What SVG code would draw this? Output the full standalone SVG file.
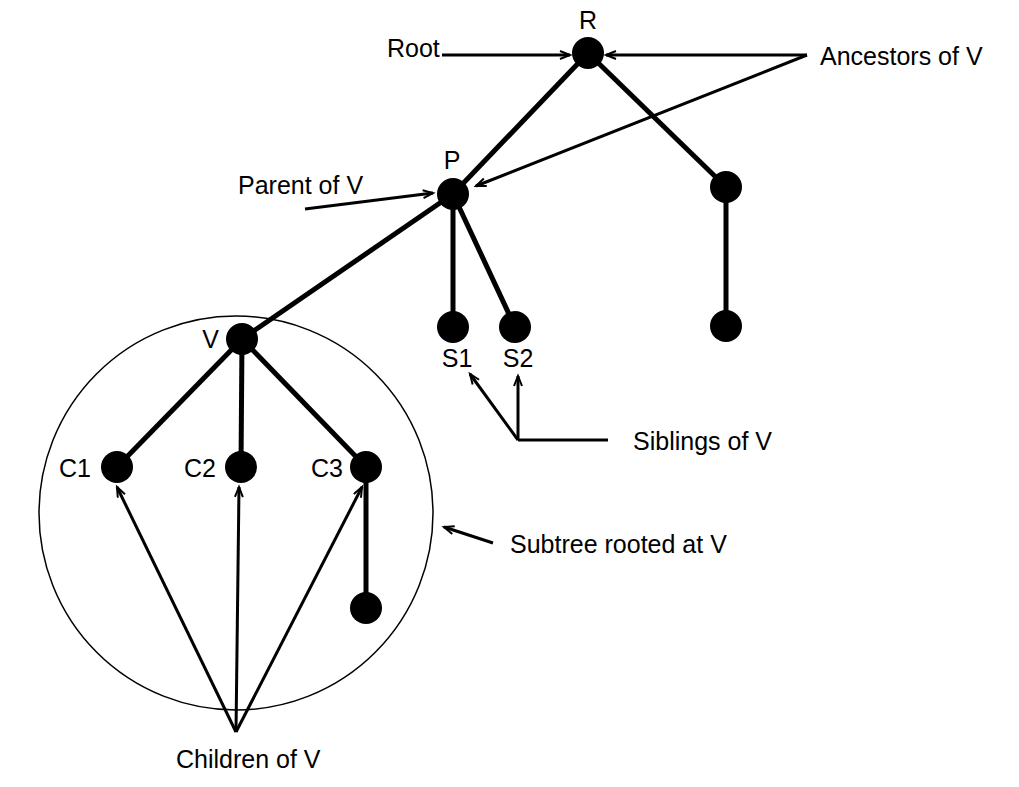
<svg xmlns="http://www.w3.org/2000/svg" width="1019" height="787" viewBox="0 0 1019 787">
<style>
.edge{stroke:#000;stroke-width:5;fill:none}
.arr{stroke:#000;stroke-width:3;fill:none;marker-end:url(#ah)}
.node{fill:#000}
text{font-family:"Liberation Sans",Arial,sans-serif;font-size:25px;fill:#000}
</style>
<defs>
<marker id="ah" markerUnits="userSpaceOnUse" markerWidth="14" markerHeight="12" refX="11" refY="5" orient="auto">
<path d="M1,1 L11,5 L1,9" fill="none" stroke="#000" stroke-width="2"/>
</marker>
</defs>
<rect width="1019" height="787" fill="#fff"/>
<circle id="subtree" cx="236" cy="513" r="197" fill="none" stroke="#000" stroke-width="1.5"/>
<g id="edges">
<line class="edge" x1="588" y1="53" x2="453" y2="194"/>
<line class="edge" x1="588" y1="53" x2="726" y2="187"/>
<line class="edge" x1="726" y1="187" x2="726" y2="326"/>
<line class="edge" x1="453" y1="194" x2="242" y2="339"/>
<line class="edge" x1="453" y1="194" x2="453" y2="327"/>
<line class="edge" x1="453" y1="194" x2="515" y2="327"/>
<line class="edge" x1="242" y1="339" x2="117" y2="467"/>
<line class="edge" x1="242" y1="339" x2="241" y2="467"/>
<line class="edge" x1="242" y1="339" x2="366" y2="467"/>
<line class="edge" x1="366" y1="467" x2="366" y2="608"/>
</g>
<g id="connectors">
<line class="arr" x1="442" y1="55" x2="570" y2="55"/>
<line class="arr" x1="807" y1="55" x2="606" y2="55"/>
<line class="arr" x1="807" y1="55" x2="476" y2="186"/>
<line class="arr" x1="305" y1="209" x2="433" y2="193"/>
<polyline fill="none" stroke="#000" stroke-width="3" points="608,440 518,440"/>
<line class="arr" x1="518" y1="440" x2="518" y2="376"/>
<line class="arr" x1="518" y1="440" x2="470" y2="374"/>
<line class="arr" x1="493" y1="543" x2="444" y2="527"/>
<line class="arr" x1="236" y1="732" x2="117" y2="487"/>
<line class="arr" x1="236" y1="732" x2="239" y2="487"/>
<line class="arr" x1="236" y1="732" x2="362" y2="487"/>
</g>
<g id="node-R"><circle class="node" cx="588" cy="53" r="16"/><text x="588" y="29" text-anchor="middle">R</text></g>
<g id="node-P"><circle class="node" cx="453" cy="194" r="16"/><text x="452" y="169" text-anchor="middle">P</text></g>
<g id="node-R2"><circle class="node" cx="726" cy="187" r="16"/></g>
<g id="node-R2c"><circle class="node" cx="726" cy="326" r="16"/></g>
<g id="node-S1"><circle class="node" cx="453" cy="327" r="16"/><text x="457" y="367" text-anchor="middle">S1</text></g>
<g id="node-S2"><circle class="node" cx="515" cy="327" r="16"/><text x="518" y="367" text-anchor="middle">S2</text></g>
<g id="node-V"><circle class="node" cx="242" cy="339" r="16"/><text x="219" y="348" text-anchor="end">V</text></g>
<g id="node-C1"><circle class="node" cx="117" cy="467" r="16"/><text x="91" y="477" text-anchor="end">C1</text></g>
<g id="node-C2"><circle class="node" cx="241" cy="467" r="16"/><text x="216" y="477" text-anchor="end">C2</text></g>
<g id="node-C3"><circle class="node" cx="366" cy="467" r="16"/><text x="343" y="477" text-anchor="end">C3</text></g>
<g id="node-C3c"><circle class="node" cx="366" cy="608" r="16"/></g>
<g id="labels">
<text x="387" y="57">Root</text>
<text x="820" y="65">Ancestors of V</text>
<text x="238" y="194">Parent of V</text>
<text x="633" y="450">Siblings of V</text>
<text x="510" y="553">Subtree rooted at V</text>
<text x="176" y="768">Children of V</text>
</g>
</svg>
